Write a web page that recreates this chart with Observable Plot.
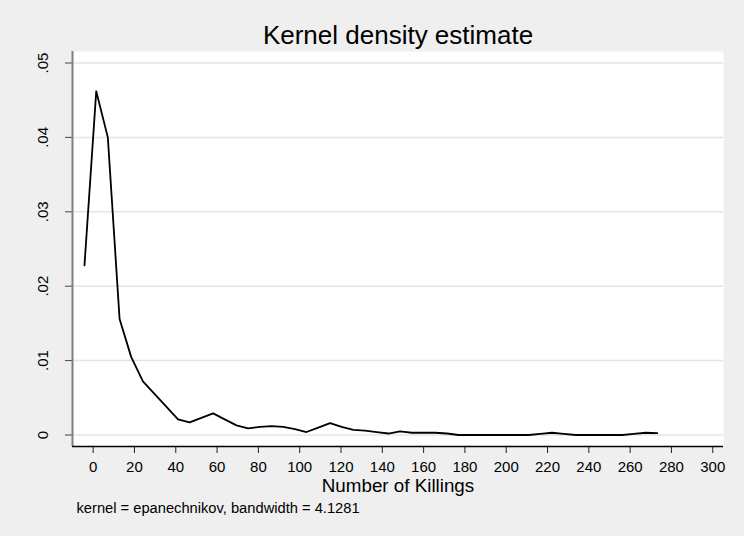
<!DOCTYPE html>
<html><head><meta charset="utf-8">
<script src="https://cdn.jsdelivr.net/npm/d3@7"></script>
<script src="https://cdn.jsdelivr.net/npm/@observablehq/plot@0.6"></script>
<style>body{margin:0;background:#fff}</style>
</head><body><div id="chart"></div>
<script>
const killings = [-4.2, 1.5, 7.1, 12.8, 18.4, 24.1, 29.8, 35.4, 41.1, 46.7,
  52.4, 58.1, 63.7, 69.4, 75.0, 80.7, 86.4, 92.0, 97.7, 103.3,
  109.0, 114.7, 120.3, 126.0, 131.6, 137.3, 143.0, 148.6, 154.3, 159.9,
  165.6, 171.3, 176.9, 182.6, 188.2, 193.9, 199.6, 205.2, 210.9, 216.5,
  222.2, 227.9, 233.5, 239.2, 244.8, 250.5, 256.2, 261.8, 267.5, 273.1];
const density = [0.0228, 0.0462, 0.0400, 0.0156, 0.0105, 0.0072, 0.0055, 0.0038, 0.0021, 0.0017,
  0.0023, 0.0029, 0.0021, 0.0013, 0.0009, 0.0011, 0.0012, 0.0011, 0.0008, 0.0004,
  0.0010, 0.0016, 0.0011, 0.0007, 0.0006, 0.0004, 0.0002, 0.0005, 0.0003, 0.0003,
  0.0003, 0.0002, 0.0000, 0.0000, 0.0000, 0.0000, 0.0000, 0.0000, 0.0000, 0.00015,
  0.0003, 0.00015, 0.0000, 0.0000, 0.0000, 0.0000, 0.0000, 0.00015, 0.0003, 0.00025];
const xTicks = [0, 20, 40, 60, 80, 100, 120, 140, 160, 180, 200, 220, 240, 260, 280, 300];
const yTicks = [0, 0.01, 0.02, 0.03, 0.04, 0.05];
const title = "Kernel density estimate";
const xLabel = "Number of Killings";
const note = "kernel = epanechnikov, bandwidth = 4.1281";

const data = killings.map((x, i) => ({x, y: density[i]}));
const font = "'Liberation Sans', Arial, Helvetica, sans-serif";
const xMin = -10, xMax = 305.2, yMin = -0.001546, yMax = 0.051546;

const chart = Plot.plot({
  width: 744, height: 536,
  marginLeft: 72, marginRight: 21, marginTop: 51, marginBottom: 90,
  style: {background: "#efefef", fontFamily: font, color: "#000"},
  x: {domain: [xMin, xMax]},
  y: {domain: [yMin, yMax]},
  marks: [
    Plot.frame({fill: "white", stroke: null}),
    Plot.gridY(yTicks, {stroke: "#e4e4e4", strokeOpacity: 1, strokeWidth: 1.5}),
    Plot.axisY(yTicks, {tickSize: 7, tickPadding: 18, tickRotate: -90, fontSize: 15, fill: "#000", stroke: "#444",
      tickFormat: d => d === 0 ? "0" : d.toFixed(2).replace(/^0/, ""), label: null}),
    Plot.axisX(xTicks, {tickSize: 7, tickPadding: 8, fontSize: 15, fill: "#000", stroke: "#222", label: null}),
    Plot.ruleX([xMin], {stroke: "#7f7f7f", strokeWidth: 2}),
    Plot.ruleY([yMin], {stroke: "#000", strokeWidth: 1.5}),
    Plot.line(data, {x: "x", y: "y", stroke: "#000", strokeWidth: 1.8}),
    Plot.text([title], {text: d => d, frameAnchor: "top", lineAnchor: "middle", dy: -16, fontSize: 26, fill: "#000"}),
    Plot.text([xLabel], {text: d => d, frameAnchor: "bottom", lineAnchor: "top", dy: 32, fontSize: 18.8, fill: "#000"}),
    Plot.text([note], {text: d => d, frameAnchor: "bottom-left", textAnchor: "start", lineAnchor: "top", dx: 4, dy: 56, fontSize: 14.7, fill: "#000"})
  ]
});
document.getElementById("chart").appendChild(chart);
</script>
</body></html>
